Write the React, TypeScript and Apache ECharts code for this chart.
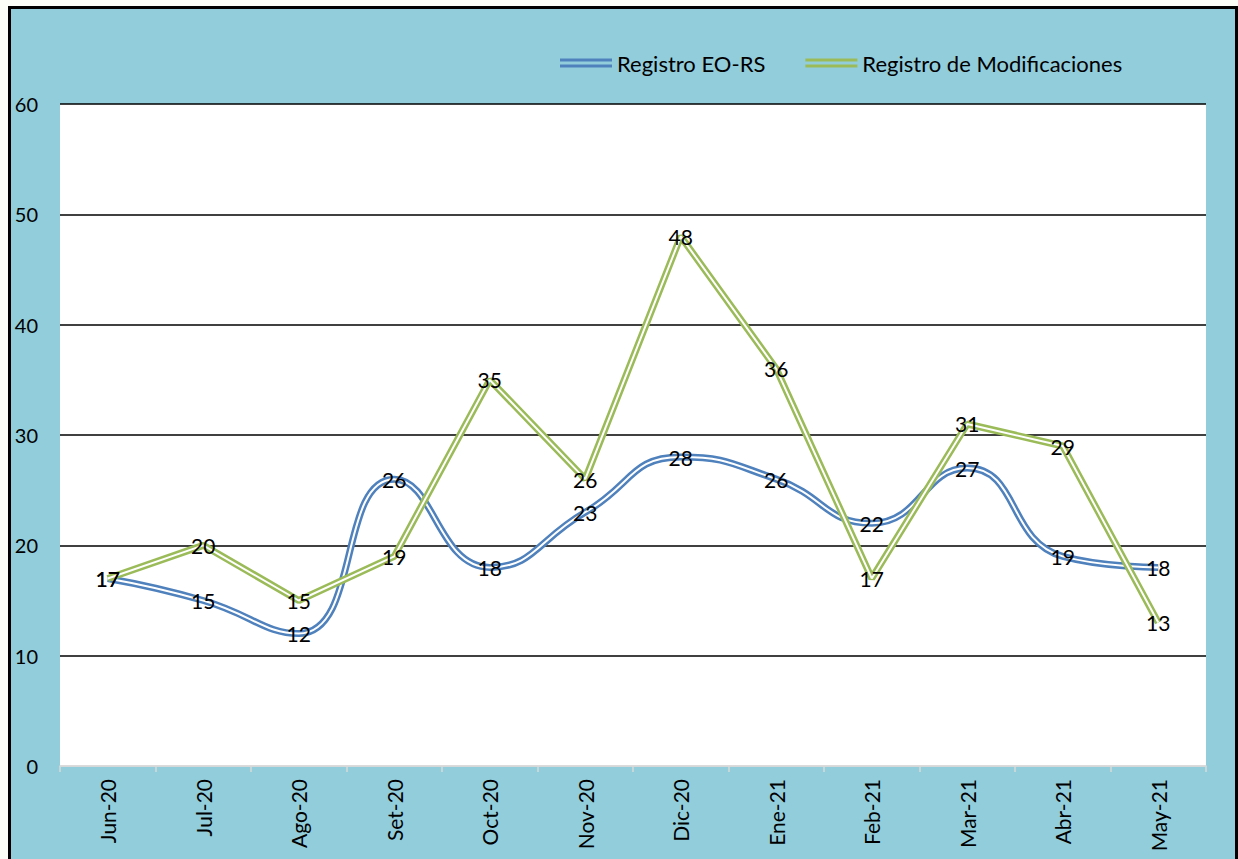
import React, { useEffect, useRef } from "react";
import * as echarts from "echarts";

const categories = ["Jun-20", "Jul-20", "Ago-20", "Set-20", "Oct-20", "Nov-20", "Dic-20", "Ene-21", "Feb-21", "Mar-21", "Abr-21", "May-21"];
const registroEORS = [17, 15, 12, 26, 18, 23, 28, 26, 22, 27, 19, 18];
const registroModificaciones = [17, 20, 15, 19, 35, 26, 48, 36, 17, 31, 29, 13];
const seriesNames = ["Registro EO-RS", "Registro de Modificaciones"];

const BLUE = "#4F81BD";
const GREEN = "#9BBB59";
const FONT = "Lato";

export default function App() {
  const ref = useRef<HTMLDivElement>(null);
  useEffect(() => {
    document.body.style.background = "#FAFEF6";
    const chart = echarts.init(ref.current!, null, { renderer: "svg" });
    const outer = (name: string, data: number[], color: string, smooth: number | boolean) => ({
      name,
      type: "line",
      data,
      smooth,
      symbol: "none",
      lineStyle: { color, width: 7 },
      itemStyle: { color },
      z: 2,
    });
    const inner = (name: string, data: number[], smooth: number | boolean) => ({
      name: name + "_inner",
      type: "line",
      data,
      smooth,
      symbol: "none",
      lineStyle: { color: "#FFFFFF", width: 2 },
      z: 2,
      silent: true,
    });
    const labels = (name: string, data: number[]) => ({
      name: name + "_label",
      type: "line",
      data,
      symbol: "circle",
      symbolSize: 1,
      itemStyle: { color: "rgba(0,0,0,0)" },
      lineStyle: { width: 0, opacity: 0 },
      label: { show: true, position: "inside", color: "#000", fontSize: 21, fontFamily: FONT },
      z: 10,
      silent: true,
    });
    chart.setOption({
      animation: false,
      backgroundColor: "#92CDDC",
      textStyle: { fontFamily: FONT },
      legend: {
        data: seriesNames,
        left: 544,
        top: 38,
        itemWidth: 52,
        itemHeight: 9,
        itemGap: 40,
        icon: "path://M0,0H52V3H0Z M0,6H52V9H0Z",
        textStyle: { color: "#000", fontSize: 22, fontFamily: FONT },
      },
      grid: {
        left: 49,
        top: 95,
        right: 29,
        bottom: 93,
        show: true,
        backgroundColor: "#FFFFFF",
        borderWidth: 0,
      },
      xAxis: {
        type: "category",
        data: categories,
        boundaryGap: true,
        axisLine: { show: true, lineStyle: { color: "#D9D9D9", width: 1.5 } },
        axisTick: { show: true, interval: 0, length: 6, lineStyle: { color: "#D9D9D9", width: 1.5 } },
        axisLabel: { rotate: 90, margin: 13, color: "#000", fontSize: 21, fontFamily: FONT, interval: 0 },
      },
      yAxis: {
        type: "value",
        min: 0,
        max: 60,
        interval: 10,
        axisLine: { show: false },
        axisTick: { show: false },
        axisLabel: { margin: 22, color: "#000", fontSize: 20, fontFamily: FONT },
        splitLine: {
          show: true,
          lineStyle: { color: ["#D9D9D9", "#000", "#000", "#000", "#000", "#000", "#000"], width: 1.5 },
        },
      },
      series: [
        outer(seriesNames[0], registroEORS, BLUE, 0.5),
        inner(seriesNames[0], registroEORS, 0.5),
        outer(seriesNames[1], registroModificaciones, GREEN, false),
        inner(seriesNames[1], registroModificaciones, false),
        labels(seriesNames[0], registroEORS),
        labels(seriesNames[1], registroModificaciones),
      ],
    });
    return () => chart.dispose();
  }, []);
  return (
    <div
      style={{
        position: "absolute",
        left: 8,
        top: 6,
        width: 1230,
        height: 870,
        boxSizing: "border-box",
        borderLeft: "3px solid #000",
        borderTop: "3px solid #000",
        borderRight: "3px solid #000",
        overflow: "hidden",
      }}
    >
      <div ref={ref} style={{ width: 1224, height: 850 }} />
    </div>
  );
}
